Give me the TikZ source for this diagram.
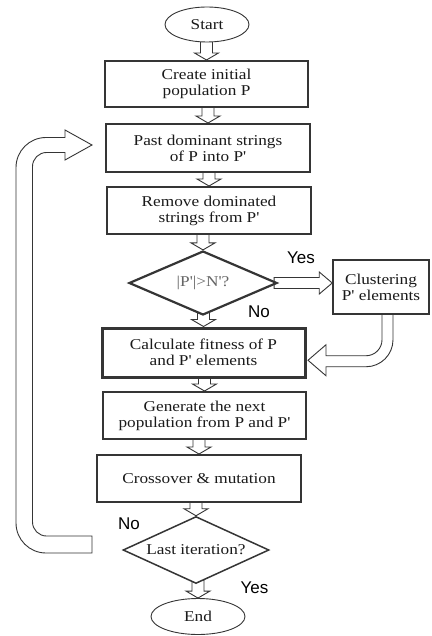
\documentclass[tikz,border=0pt]{standalone}
\usepackage{fontspec}
\newfontfamily\tf{Liberation Serif}[FakeStretch=1.15]
\newfontfamily\lf{Liberation Sans}
\usetikzlibrary{shapes.geometric,calc}
\pgfdeclarelayer{background}
\pgfsetlayers{background,main}
\definecolor{ln}{HTML}{353535}
\definecolor{tx}{HTML}{1A1A1A}
\definecolor{gtx}{HTML}{666666}
\tikzset{
  box/.style={draw=ln, line width=2pt, fill=white, rectangle, align=center,
    text=tx, inner sep=0pt, font=\tf\fontsize{15}{16}\selectfont},
  term/.style={draw=ln, line width=0.9pt, fill=white, ellipse, inner sep=0pt,
    text=tx, font=\tf\fontsize{15}{16}\selectfont},
  decision/.style={draw=ln, fill=white, diamond, aspect=2.3, inner sep=0pt,
    text=tx, font=\tf\fontsize{15}{16}\selectfont},
  harrow/.style={draw=ln, line width=0.9pt, fill=white, line join=miter},
  yn/.style={font=\lf\fontsize{17}{18}\selectfont, text=black, inner sep=0pt},
}
\newcommand\hdown[2]{%
  \draw[harrow] let \p1=(#1.south), \p2=(#2.north) in
    (\x2-6pt,\y1+4pt) -- (\x2-6pt,\y2+7pt) -- (\x2-12pt,\y2+7pt) -- (\x2,\y2)
    -- (\x2+12pt,\y2+7pt) -- (\x2+6pt,\y2+7pt) -- (\x2+6pt,\y1+4pt) -- cycle;}
\begin{document}
\begin{tikzpicture}[x=1pt,y=-1pt]
\useasboundingbox (0,0) rectangle (431,636);

\node[term, minimum width=84pt, minimum height=35pt] (start) at (207,24.5) {Start};
\node[box, minimum width=203pt, minimum height=46pt] (create) at (206.5,84) {Create initial\\population P};
\node[box, minimum width=204pt, minimum height=48pt] (past) at (208,148) {Past dominant strings\\of P into P'};
\node[box, minimum width=204pt, minimum height=47pt] (remove) at (209,210.5) {Remove dominated\\strings from P'};
\node[decision, line width=2.2pt, minimum width=148pt, minimum height=64pt, text=gtx] (dia1) at (203,283) {|P'|>N'?};
\node[box, line width=1.5pt, minimum width=96pt, minimum height=54pt] (clust) at (381,287) {Clustering\\P' elements};
\node[box, line width=3pt, minimum width=203pt, minimum height=49pt] (calc) at (203.5,352.5) {Calculate fitness of P\\and P' elements};
\node[box, minimum width=203pt, minimum height=47pt] (gen) at (204.5,415.5) {Generate the next\\population from P and P'};
\node[box, minimum width=204pt, minimum height=47pt] (cross) at (199,478.5) {Crossover \& mutation};
\node[decision, line width=1.5pt, minimum width=146pt, minimum height=67pt] (dia2) at (196,550) {Last iteration?};
\node[term, minimum width=94pt, minimum height=36pt] (end) at (198,616.5) {End};

\node[yn] (yes1) at (301,258) {Yes};
\node[yn] (no1) at (259,312) {No};
\node[yn] (no2) at (129,524) {No};
\node[yn] (yes2) at (254.5,588) {Yes};

\coordinate (lt) at ($(past.west)+(-13,-3)$);

\begin{pgfonlayer}{background}
\fill[white] (0,0) rectangle (431,636);
\hdown{start}{create}
\hdown{create}{past}
\hdown{past}{remove}
\hdown{remove}{dia1}
\hdown{dia1}{calc}
\hdown{calc}{gen}
\hdown{gen}{cross}
\hdown{cross}{dia2}
\hdown{dia2}{end}
% Yes arrow to clustering
\draw[harrow] let \p1=(dia1.east), \p2=(clust.west) in
  (\x1-4pt,\y1+5.5pt) -- (\x2-13pt,\y1+5.5pt) -- (\x2-13pt,\y1+11pt) -- (\x2,\y1)
  -- (\x2-13pt,\y1-11pt) -- (\x2-13pt,\y1-5.5pt) -- (\x1-4pt,\y1-5.5pt) -- cycle;
% clustering back to calculate
\draw[harrow] ($(clust.south)+(1,-3)$) -- ++(0,28)
  arc[start angle=0,end angle=-90,radius=16pt] -- ++(-40,0) -- ++(0,-11)
  -- ++(-18,15.5) -- ++(18,15.5) -- ++(0,-9) -- ++(40,0)
  arc[start angle=-90,end angle=0,radius=27pt] -- ++(0,-28) -- cycle;
\end{pgfonlayer}
% loop back from last iteration to past
\draw[harrow] (lt) -- ++(-27,-15) -- ++(0,7.5) -- ++(-19,0)
  arc[start angle=90,end angle=180,radius=30pt] -- ++(0,355.5)
  arc[start angle=180,end angle=270,radius=30pt] -- ++(46,0) -- ++(0,-17) -- ++(-45.5,0)
  arc[start angle=270,end angle=180,radius=14pt] -- ++(0,-355.5)
  arc[start angle=180,end angle=90,radius=14pt] -- ++(18.5,0) -- ++(0,7.5) -- cycle;
\end{tikzpicture}
\end{document}
